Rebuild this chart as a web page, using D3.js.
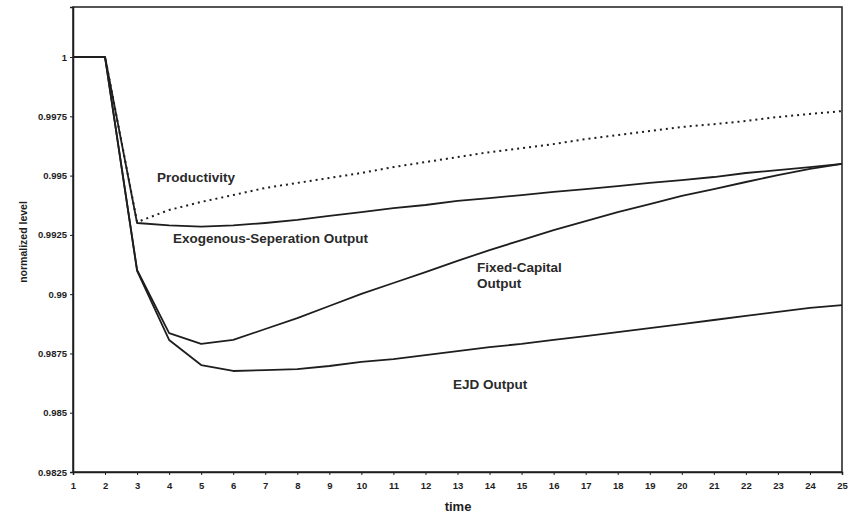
<!DOCTYPE html>
<html>
<head>
<meta charset="utf-8">
<script src="https://cdn.jsdelivr.net/npm/d3@7"></script>
<style>
  body { margin: 0; background: #fff; }
  svg { display: block; font-family: "Liberation Sans", Arial, sans-serif; }
</style>
</head>
<body>
<div id="chart"></div>
<script>
var periods = d3.range(1, 26);

var productivity = [1, 1, 0.99304, 0.99355, 0.99389, 0.99418, 0.99448, 0.99469, 0.99490, 0.99511,
    0.99536, 0.99557, 0.99578, 0.99599, 0.99616, 0.99633, 0.99654, 0.99671, 0.99688, 0.99705,
    0.99717, 0.99730, 0.99747, 0.99760, 0.99772];

var exogenousOutput = [1, 1, 0.99300, 0.99290, 0.99285, 0.99290, 0.99300, 0.99313, 0.99330, 0.99346,
    0.99363, 0.99376, 0.99393, 0.99405, 0.99418, 0.99431, 0.99443, 0.99456, 0.99469, 0.99481,
    0.99494, 0.99511, 0.99523, 0.99536, 0.99549];

var fixedCapitalOutput = [1, 1, 0.99102, 0.98836, 0.98790, 0.98807, 0.98853, 0.98899, 0.98950, 0.99001,
    0.99047, 0.99093, 0.99140, 0.99186, 0.99228, 0.99270, 0.99308, 0.99346, 0.99380, 0.99414,
    0.99443, 0.99473, 0.99502, 0.99528, 0.99549];

var ejdOutput = [1, 1, 0.99098, 0.98807, 0.98701, 0.98676, 0.98680, 0.98684, 0.98697, 0.98714,
    0.98726, 0.98743, 0.98760, 0.98777, 0.98790, 0.98807, 0.98823, 0.98840, 0.98857, 0.98874,
    0.98891, 0.98908, 0.98925, 0.98942, 0.98954];

var yTicks = [1, 0.9975, 0.995, 0.9925, 0.99, 0.9875, 0.985, 0.9825];

var width = 853, height = 515;
var margin = { top: 7, right: 11, bottom: 43, left: 73 };
var w = width - margin.left - margin.right;
var h = height - margin.top - margin.bottom;
var ink = "#1e1e1e";

var svg = d3.select("#chart").append("svg")
    .attr("width", width)
    .attr("height", height);

var g = svg.append("g")
    .attr("transform", "translate(" + margin.left + "," + margin.top + ")");

var x = d3.scaleLinear().domain([1, 25]).range([0, w]);
var y = d3.scaleLinear().domain([0.9825, 1.00211]).range([h, 0]);

// plot frame
g.append("rect")
    .attr("width", w)
    .attr("height", h)
    .attr("fill", "none")
    .attr("stroke", ink)
    .attr("stroke-width", 1.5);

// axes
var yAxis = g.append("g")
    .call(d3.axisLeft(y).tickValues(yTicks).tickSize(3).tickFormat(function (d) { return String(+d.toFixed(4)); }));
var xAxis = g.append("g")
    .attr("transform", "translate(0," + h + ")")
    .call(d3.axisBottom(x).tickValues(periods).tickSize(3).tickFormat(d3.format("d")));

[yAxis, xAxis].forEach(function (a) {
    a.select(".domain").attr("stroke", ink).attr("stroke-width", 1.5);
    a.selectAll(".tick line").attr("stroke", ink);
    a.selectAll("text")
        .attr("fill", ink)
        .style("font-size", "9.5px")
        .style("font-weight", "bold");
});
yAxis.selectAll("text").attr("x", -6);
xAxis.selectAll("text").attr("y", 10);

// series
var line = d3.line()
    .x(function (d, i) { return x(periods[i]); })
    .y(function (d) { return y(d); });

var series = [
    { values: productivity, dash: "2,4" },
    { values: exogenousOutput, dash: null },
    { values: fixedCapitalOutput, dash: null },
    { values: ejdOutput, dash: null }
];

g.selectAll(".series")
    .data(series)
    .enter().append("path")
    .attr("class", "series")
    .attr("d", function (d) { return line(d.values); })
    .attr("fill", "none")
    .attr("stroke", ink)
    .attr("stroke-width", function (d) { return d.dash ? 2 : 1.8; })
    .attr("stroke-dasharray", function (d) { return d.dash; })
    .attr("stroke-linejoin", "round");

// series labels
var labels = [
    { text: ["Productivity"], x: 157, y: 182 },
    { text: ["Exogenous-Seperation Output"], x: 173, y: 243 },
    { text: ["Fixed-Capital", "Output"], x: 477, y: 272 },
    { text: ["EJD Output"], x: 453, y: 389 }
];

labels.forEach(function (l) {
    var t = svg.append("text")
        .attr("x", l.x)
        .attr("y", l.y)
        .attr("fill", "#2a2a2a")
        .style("font-size", "13.5px")
        .style("font-weight", "bold");
    l.text.forEach(function (s, i) {
        t.append("tspan").attr("x", l.x).attr("dy", i ? 16 : 0).text(s);
    });
});

// axis titles
svg.append("text")
    .attr("x", 458)
    .attr("y", 511)
    .attr("text-anchor", "middle")
    .attr("fill", ink)
    .style("font-size", "13px")
    .style("font-weight", "bold")
    .text("time");

svg.append("text")
    .attr("transform", "translate(27,242) rotate(-90)")
    .attr("text-anchor", "middle")
    .attr("fill", ink)
    .style("font-size", "10.5px")
    .style("font-weight", "bold")
    .text("normalized level");
</script>
</body>
</html>
